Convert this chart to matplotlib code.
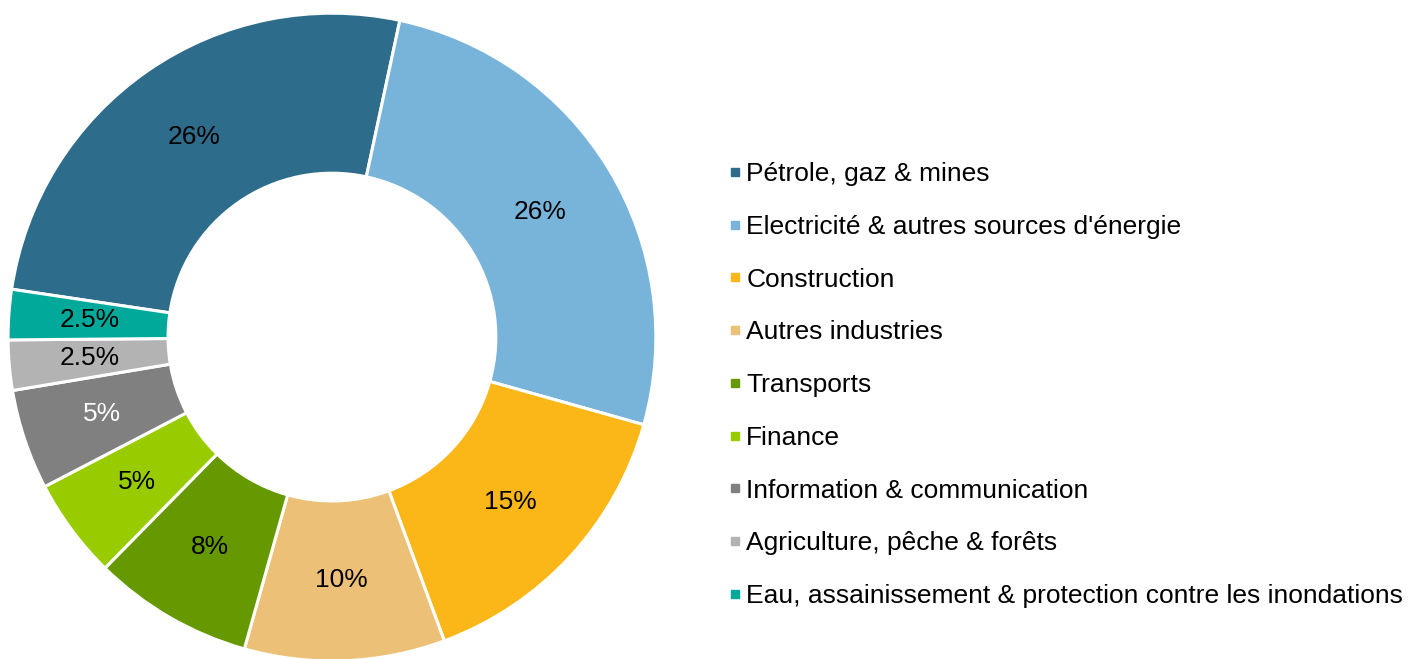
import matplotlib
matplotlib.use("Agg")
import matplotlib.pyplot as plt
from matplotlib.lines import Line2D
import numpy as np

plt.rcParams['font.family'] = ['Liberation Sans', 'DejaVu Sans']

# --- Data ---
labels = [
    "Pétrole, gaz & mines",
    "Electricité & autres sources d'énergie",
    "Construction",
    "Autres industries",
    "Transports",
    "Finance",
    "Information & communication",
    "Agriculture, pêche & forêts",
    "Eau, assainissement & protection contre les inondations",
]
values = [26, 26, 15, 10, 8, 5, 5, 2.5, 2.5]
pct_text = ["26%", "26%", "15%", "10%", "8%", "5%", "5%", "2.5%", "2.5%"]
colors = ['#2E6C8B', '#78B4DA', '#FAB717', '#EDC077', '#669900',
          '#99CC00', '#808080', '#B3B3B3', '#00A99A']
text_colors = ['black'] * 6 + ['white', 'black', 'black']

fig = plt.figure(figsize=(14.26, 6.59), dpi=100)
ax = fig.add_axes([0.0056, -0.003, 0.4544, 0.983])

wedges, _ = ax.pie(values, colors=colors, startangle=171.5, counterclock=False,
                   radius=1.0,
                   wedgeprops=dict(width=0.494, edgecolor='white', linewidth=2.2))

# percent labels at middle of the ring
for w, t, tc in zip(wedges, pct_text, text_colors):
    ang = np.deg2rad((w.theta1 + w.theta2) / 2)
    r = 0.75
    ax.text(r * np.cos(ang), r * np.sin(ang), t, ha='center', va='center',
            fontsize=19, color=tc)

ax.set_xlim(-1, 1)
ax.set_ylim(-1, 1)
ax.set_aspect('equal')
ax.axis('off')

handles = [Line2D([0], [0], marker='s', linestyle='none', markersize=6,
                  markerfacecolor=c, markeredgecolor=c) for c in colors]
fig.legend(handles, labels, loc='center left', bbox_to_anchor=(0.511, 0.4155),
           frameon=False, fontsize=19, handlelength=0.45, handletextpad=0.22,
           labelspacing=1.09, borderpad=0, borderaxespad=0)

fig.savefig('out.png', dpi=100, facecolor='white')
